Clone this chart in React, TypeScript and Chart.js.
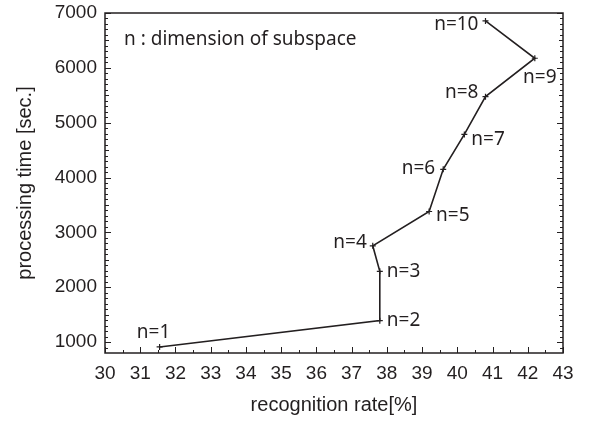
import React, { useEffect, useRef } from "react";
import { Chart, registerables } from "chart.js";

Chart.register(...registerables);

const recognitionRate = [31.55, 37.8, 37.8, 37.6, 39.2, 39.6, 40.2, 40.8, 42.2, 40.8];
const processingTime = [910, 1390, 2290, 2755, 3380, 4150, 4785, 5475, 6175, 6855];
const pointLabels = ["n=1", "n=2", "n=3", "n=4", "n=5", "n=6", "n=7", "n=8", "n=9", "n=10"];
const xTickValues = [30, 31, 32, 33, 34, 35, 36, 37, 38, 39, 40, 41, 42, 43];
const yTickValues = [1000, 2000, 3000, 4000, 5000, 6000, 7000];
const xTitle = "recognition rate[%]";
const yTitle = "processing time [sec.]";
const noteText = "n : dimension of subspace";

// label placement relative to the point: [align, dx, dy]
const labelPlacement: [CanvasTextAlign, number, number][] = [
  ["center", -6, -14],
  ["left", 7, 0],
  ["left", 7, 0],
  ["right", -6, -3],
  ["left", 7, 4],
  ["right", -8, -1],
  ["left", 7, 5],
  ["right", -7, -4],
  ["center", 5, 19],
  ["right", -7, 4],
];

const INK = "#231f20";
const AXIS_FONT = "'Liberation Sans', Arial, sans-serif";
const LABEL_FONT = "'Noto Sans', 'Open Sans', sans-serif";

const framePlugin = {
  id: "frameTicks",
  afterDraw(chart: any) {
    const { ctx, chartArea } = chart;
    const xs = chart.scales.x;
    const ys = chart.scales.y;
    const { left, right, top, bottom } = chartArea;
    ctx.save();
    ctx.strokeStyle = INK;
    ctx.lineWidth = 1.5;
    ctx.strokeRect(left, top, right - left, bottom - top);
    ctx.lineWidth = 1;
    ctx.beginPath();
    for (let v = 900; v <= 7000; v += 100) {
      const y = Math.round(ys.getPixelForValue(v)) + 0.5;
      const len = v % 1000 === 0 ? 6 : v % 500 === 0 ? 4 : 3;
      ctx.moveTo(left, y);
      ctx.lineTo(left + len, y);
      ctx.moveTo(right, y);
      ctx.lineTo(right - len, y);
    }
    for (let i = 0; i <= 26; i++) {
      const v = 30 + i * 0.5;
      const x = Math.round(xs.getPixelForValue(v)) + 0.5;
      const len = i % 2 === 0 ? 6 : 3;
      ctx.moveTo(x, bottom);
      ctx.lineTo(x, bottom - len);
    }
    ctx.stroke();

    // point labels
    const meta = chart.getDatasetMeta(0);
    ctx.fillStyle = INK;
    ctx.font = `19px ${LABEL_FONT}`;
    ctx.textBaseline = "middle";
    meta.data.forEach((pt: any, i: number) => {
      const [align, dx, dy] = labelPlacement[i];
      ctx.textAlign = align;
      ctx.fillText(pointLabels[i], pt.x + dx, pt.y + dy);
    });

    // note
    ctx.textAlign = "left";
    ctx.font = `19px ${LABEL_FONT}`;
    ctx.fillText(noteText, left + 19, top + 27);
    ctx.restore();
  },
};

export default function App() {
  const ref = useRef<HTMLCanvasElement | null>(null);
  useEffect(() => {
    if (!ref.current) return;
    const chart = new Chart(ref.current, {
      type: "scatter",
      data: {
        datasets: [
          {
            data: recognitionRate.map((x, i) => ({ x, y: processingTime[i] })),
            showLine: true,
            borderColor: INK,
            borderWidth: 1.6,
            pointStyle: "cross",
            pointRadius: 3,
            pointBorderWidth: 1.2,
            pointBorderColor: INK,
            pointBackgroundColor: INK,
            tension: 0,
          },
        ],
      },
      options: {
        responsive: false,
        animation: false,
        layout: { padding: { top: 13, right: 31, left: 0, bottom: 0 } },
        plugins: {
          legend: { display: false },
          tooltip: { enabled: false },
        },
        scales: {
          x: {
            type: "linear",
            min: 30,
            max: 43,
            afterBuildTicks: (s: any) => {
              s.ticks = xTickValues.map((value) => ({ value }));
            },
            afterFit: (s: any) => {
              s.height = 71;
              s.paddingLeft = 0;
              s.paddingRight = 0;
            },
            grid: { display: false, drawTicks: false },
            border: { display: false },
            ticks: {
              color: INK,
              font: { family: AXIS_FONT, size: 19 },
              padding: 9,
              maxRotation: 0,
              autoSkip: false,
            },
            title: {
              display: true,
              text: xTitle,
              color: INK,
              font: { family: AXIS_FONT, size: 20 },
              padding: { top: 4, bottom: 7 },
            },
          },
          y: {
            type: "linear",
            min: 800,
            max: 7000,
            afterBuildTicks: (s: any) => {
              s.ticks = yTickValues.map((value) => ({ value }));
            },
            afterFit: (s: any) => {
              s.width = 105;
              s.paddingTop = 0;
              s.paddingBottom = 0;
            },
            grid: { display: false, drawTicks: false },
            border: { display: false },
            ticks: {
              color: INK,
              font: { family: AXIS_FONT, size: 19 },
              padding: 8,
              autoSkip: false,
              callback: (v: any) => String(v),
            },
            title: {
              display: true,
              text: yTitle,
              color: INK,
              font: { family: AXIS_FONT, size: 20 },
              padding: { top: 13, bottom: 0 },
            },
          },
        },
      },
      plugins: [framePlugin],
    });
    return () => chart.destroy();
  }, []);
  return (
    <div style={{ position: "fixed", left: 0, top: 0, width: 594, height: 424, background: "#fff" }}>
      <canvas ref={ref} width={594} height={424} />
    </div>
  );
}
